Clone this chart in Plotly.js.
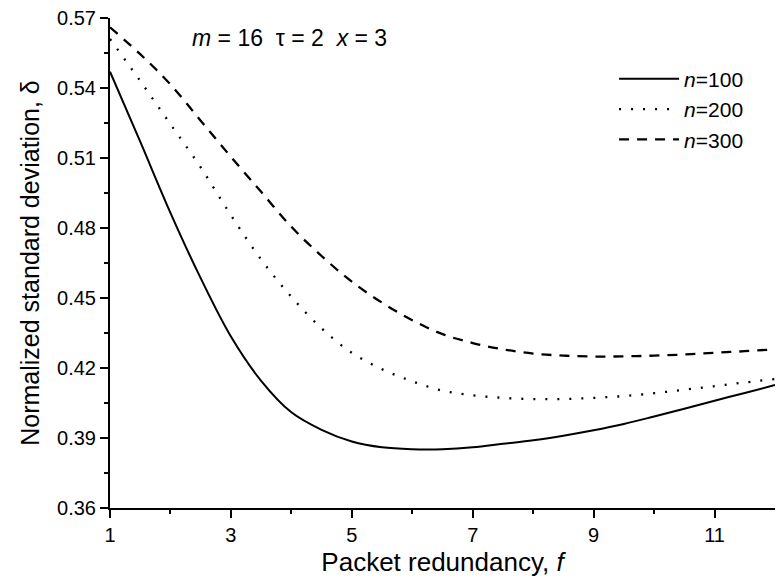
<!DOCTYPE html>
<html><head><meta charset="utf-8">
<script src="https://cdn.plot.ly/plotly-3.0.1.min.js"></script>
<style>body{margin:0;}#chart{width:776px;height:587px;}</style>
</head><body><div id="chart"></div>
<script>
const f = [1,1.5,2,2.5,3,3.5,4,4.5,5,5.5,6,6.5,7,7.5,8,8.5,9,9.5,10,10.5,11,11.5,12];
const n100 = [0.547,0.517,0.4865,0.4585,0.4335,0.4145,0.401,0.3935,0.3885,0.386,0.3852,0.3852,0.386,0.3875,0.389,0.391,0.3933,0.396,0.3992,0.4025,0.406,0.4093,0.4127];
const n200 = [0.561,0.543,0.5245,0.506,0.4855,0.4665,0.4505,0.437,0.4265,0.4195,0.4143,0.4103,0.4083,0.4072,0.4067,0.4067,0.4072,0.408,0.4092,0.4107,0.4122,0.4138,0.4153];
const n300 = [0.566,0.5545,0.5415,0.526,0.5105,0.4955,0.4805,0.468,0.457,0.448,0.4405,0.4345,0.4307,0.428,0.4262,0.4253,0.4249,0.425,0.4253,0.4258,0.4265,0.4272,0.428];
const seriesNames = ['<i>n</i>=100','<i>n</i>=200','<i>n</i>=300'];

const font = 'Liberation Sans, Arial, sans-serif';
const traces = [
  {x:f, y:n100, name:seriesNames[0], mode:'lines', line:{color:'#000', width:2, shape:'spline'}},
  {x:f, y:n200, name:seriesNames[1], mode:'lines', line:{color:'#000', width:2.3, dash:'2px,10px', shape:'spline'}},
  {x:f, y:n300, name:seriesNames[2], mode:'lines', line:{color:'#000', width:2.3, dash:'10px,8px', shape:'spline'}}
];
const layout = {
  width:776, height:587,
  margin:{l:110, r:1, t:18, b:79},
  paper_bgcolor:'#fff', plot_bgcolor:'#fff',
  font:{family:font, color:'#000'},
  showlegend:true,
  legend:{x:0.758, y:0.917, xanchor:'left', yanchor:'top', bgcolor:'rgba(0,0,0,0)', font:{size:21, family:font}, tracegroupgap:0, itemwidth:60},
  xaxis:{range:[1,12], tickvals:[1,3,5,7,9,11], ticks:'outside', ticklen:8, tickwidth:2, tickcolor:'#000',
    minor:{tickvals:[2,4,6,8,10], ticks:'outside', ticklen:4, tickwidth:2, tickcolor:'#000'},
    showline:true, linewidth:2, linecolor:'#000', showgrid:false, zeroline:false,
    tickfont:{size:20, family:font}, title:{text:'Packet redundancy, <i>f</i>', font:{size:26, family:font}, standoff:8}},
  yaxis:{range:[0.36,0.57], tickvals:[0.36,0.39,0.42,0.45,0.48,0.51,0.54,0.57], tickformat:'.2f', ticks:'outside', ticklen:8, tickwidth:2, tickcolor:'#000',
    minor:{tickvals:[0.375,0.405,0.435,0.465,0.495,0.525,0.555], ticks:'outside', ticklen:4, tickwidth:2, tickcolor:'#000'},
    showline:true, linewidth:2, linecolor:'#000', showgrid:false, zeroline:false,
    tickfont:{size:20, family:font}, title:{text:'Normalized standard deviation, δ', font:{size:25, family:font}, standoff:10}},
  annotations:[{x:2.32, y:0.5614, xref:'x', yref:'y', xanchor:'left', yanchor:'middle', showarrow:false,
    text:'<i>m</i> = 16\u00a0\u00a0τ = 2\u00a0\u00a0<i>x</i> = 3', font:{size:23, family:font}}]
};
Plotly.newPlot('chart', traces, layout, {staticPlot:true});
</script></body></html>
